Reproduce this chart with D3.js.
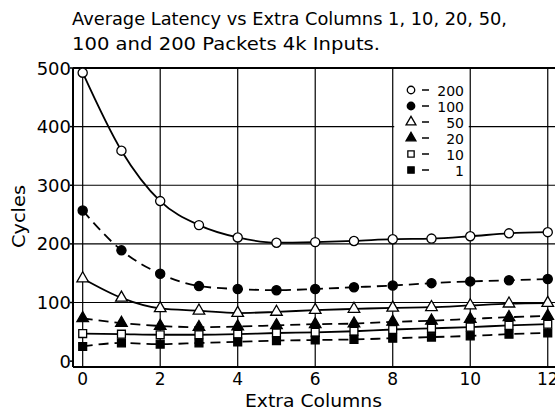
<!DOCTYPE html>
<html>
<head>
<meta charset="utf-8">
<script src="https://cdn.jsdelivr.net/npm/d3@7"></script>
<style>
  html, body { margin: 0; padding: 0; background: #fff; }
  svg { display: block; }
  text { font-family: "DejaVu Sans", sans-serif; fill: #000; }
</style>
</head>
<body>
<svg id="chart" width="555" height="410"></svg>
<script>
// ---- data ----
const extraColumns = [0, 1, 2, 3, 4, 5, 6, 7, 8, 9, 10, 11, 12];
const packets200 = [492, 359, 273, 232, 211, 202, 203, 205, 208, 209, 213, 218, 220];
const packets100 = [257, 189, 149, 128, 123, 121, 123, 126, 129, 133, 136, 138, 140];
const packets50  = [141, 108, 90, 86, 82, 84, 87, 89, 91, 92, 95, 98, 99];
const packets20  = [73, 65, 60, 58, 59, 61, 63, 64, 67, 69, 72, 75, 77];
const packets10  = [47, 46, 45, 45, 46, 48, 49, 51, 54, 56, 58, 61, 63];
const packets1   = [25, 31, 29, 31, 33, 35, 36, 37, 39, 41, 43, 46, 48];
const seriesNames = ["200", "100", "50", "20", "10", "1"];
const xTicks = [0, 2, 4, 6, 8, 10, 12];
const yTicks = [0, 100, 200, 300, 400, 500];
const titleLines = ["Average Latency vs Extra Columns 1, 10, 20, 50,", "100 and 200 Packets 4k Inputs."];
const xTitle = "Extra Columns";
const yTitle = "Cycles";

const seriesValues = [packets200, packets100, packets50, packets20, packets10, packets1];
const seriesStyle = [
  { shape: "circle",   filled: false, dashed: false },
  { shape: "circle",   filled: true,  dashed: true  },
  { shape: "triangle", filled: false, dashed: false },
  { shape: "triangle", filled: true,  dashed: true  },
  { shape: "square",   filled: false, dashed: false },
  { shape: "square",   filled: true,  dashed: true  }
];

const svg = d3.select("#chart");
const x = d3.scaleLinear().domain([-0.25, 12.2]).range([73, 555.5]);
const y = d3.scaleLinear().domain([-10, 500]).range([367, 68]);
const [x0, x1] = x.range();
const [yb, yt] = y.range();

// grid
const grid = svg.append("g").attr("stroke", "#000").attr("stroke-width", 1.2);
grid.selectAll("line.v").data(xTicks).join("line")
  .attr("x1", d => x(d)).attr("x2", d => x(d)).attr("y1", yt).attr("y2", yb);
grid.selectAll("line.h").data(yTicks.filter(d => d > 0 && d < 500)).join("line")
  .attr("x1", x0).attr("x2", x1).attr("y1", d => y(d)).attr("y2", d => y(d));

// legend background
const legX = x(8) + 1.5, legW = x(10) - x(8) - 3;
svg.append("rect").attr("x", legX).attr("y", 70).attr("width", legW).attr("height", 110).attr("fill", "#fff");

// axes frame
const frame = svg.append("g").attr("stroke", "#000").attr("stroke-width", 2).attr("fill", "none");
frame.append("line").attr("x1", x0).attr("x2", x1).attr("y1", y(500)).attr("y2", y(500));
frame.append("line").attr("x1", x0).attr("x2", x0).attr("y1", yt).attr("y2", yb);
frame.append("line").attr("x1", x0).attr("x2", x1).attr("y1", yb).attr("y2", yb);
// y ticks
svg.append("g").attr("stroke", "#000").attr("stroke-width", 1.5)
  .selectAll("line").data(yTicks).join("line")
  .attr("x1", x0 - 3).attr("x2", x0).attr("y1", d => y(d)).attr("y2", d => y(d));

// lines
const line = d3.line().x((d, i) => x(extraColumns[i])).y(d => y(d)).curve(d3.curveMonotoneX);
svg.append("g").selectAll("path").data(seriesValues).join("path")
  .attr("d", line)
  .attr("fill", "none").attr("stroke", "#000").attr("stroke-width", 1.8)
  .attr("stroke-dasharray", (d, i) => seriesStyle[i].dashed ? "10,6" : null);

// markers
function symbolFor(st) {
  if (st.shape === "circle") return d3.symbol(d3.symbolCircle, 66)();
  if (st.shape === "triangle") return d3.symbol(d3.symbolTriangle, 58)();
  return d3.symbol(d3.symbolSquare, 62)();
}
seriesValues.forEach((vals, si) => {
  const st = seriesStyle[si];
  svg.append("g").selectAll("path").data(vals).join("path")
    .attr("d", symbolFor(st))
    .attr("transform", (d, i) => `translate(${x(extraColumns[i])},${y(d)})`)
    .attr("fill", st.filled ? "#000" : "#fff")
    .attr("stroke", "#000").attr("stroke-width", 1.3);
});

// legend
const legRowY = d3.scaleLinear().domain([0, 5]).range([90, 170]);
const leg = svg.append("g");
seriesNames.forEach((name, i) => {
  const st = seriesStyle[i];
  const ry = legRowY(i);
  const small = st.shape === "circle" ? d3.symbol(d3.symbolCircle, 44)() :
                st.shape === "triangle" ? d3.symbol(d3.symbolTriangle, 42)() :
                d3.symbol(d3.symbolSquare, 40)();
  leg.append("path").attr("d", small).attr("transform", `translate(411,${ry})`)
    .attr("fill", st.filled ? "#000" : "#fff").attr("stroke", "#000").attr("stroke-width", 1.3);
  leg.append("line").attr("x1", 422).attr("x2", 429).attr("y1", ry).attr("y2", ry)
    .attr("stroke", "#000").attr("stroke-width", 1.5);
  leg.append("text").attr("x", 464).attr("y", ry + 5.5).attr("text-anchor", "end")
    .attr("font-size", 14).text(name);
});

// tick labels
svg.append("g").selectAll("text").data(yTicks).join("text")
  .attr("x", 71).attr("y", d => y(d) + 6.5).attr("text-anchor", "end")
  .attr("font-size", 18).text(d => d);
svg.append("g").selectAll("text").data(xTicks).join("text")
  .attr("x", d => x(d)).attr("y", 385).attr("text-anchor", "middle")
  .attr("font-size", 17).text(d => d);

// titles
svg.append("text").attr("x", 72).attr("y", 25).attr("font-size", 18)
  .attr("textLength", 435).attr("lengthAdjust", "spacingAndGlyphs").text(titleLines[0]);
svg.append("text").attr("x", 72).attr("y", 50).attr("font-size", 18)
  .attr("textLength", 308).attr("lengthAdjust", "spacingAndGlyphs").text(titleLines[1]);
svg.append("text").attr("x", 245).attr("y", 407).attr("font-size", 17)
  .attr("textLength", 137).attr("lengthAdjust", "spacingAndGlyphs").text(xTitle);
svg.append("text").attr("transform", "translate(25,248) rotate(-90)")
  .attr("font-size", 18).attr("textLength", 63).attr("lengthAdjust", "spacingAndGlyphs").text(yTitle);
</script>
</body>
</html>
